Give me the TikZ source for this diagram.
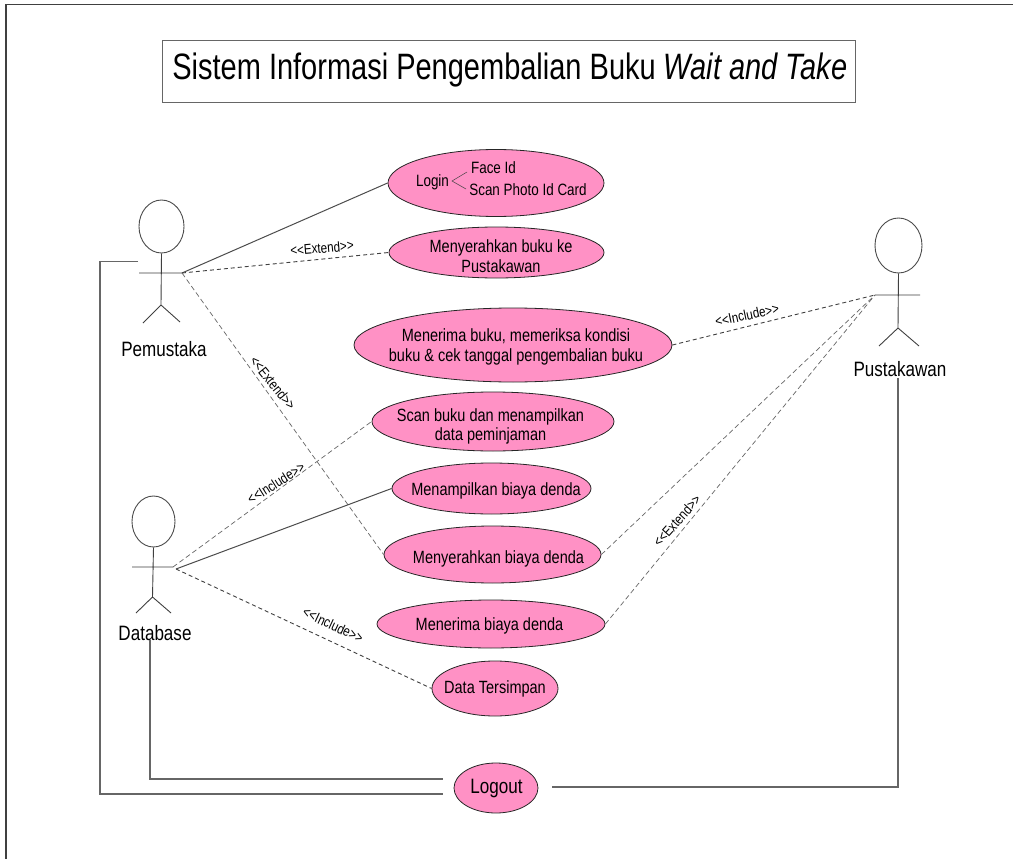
\documentclass[tikz,border=0pt]{standalone}
\usepackage{fontspec}
\setmainfont[FakeStretch=0.82]{Liberation Sans}
\newfontfamily\titlefont[FakeStretch=0.79]{Liberation Sans}
\usetikzlibrary{shapes.geometric}
\definecolor{uc}{HTML}{FF91C5}
\tikzset{
  x=1pt,y=-1pt,
  usecase/.style={ellipse,draw=black!85,line width=0.8pt,fill=uc,inner sep=0pt},
  uctext/.style={align=center,inner sep=0pt,font=\fontsize{17.7}{19.6}\selectfont},
  logintext/.style={font=\fontsize{16.4}{18}\selectfont,inner sep=0pt},
  solidlink/.style={draw=black!70,line width=1pt},
  dashlink/.style={draw=black!75,line width=0.9pt,dash pattern=on 4pt off 3pt},
  thinlink/.style={draw=black!60,line width=0.7pt,dash pattern=on 5pt off 3pt},
  elbow/.style={draw=black!60,line width=1.2pt},
  actorline/.style={draw=black!75,line width=0.9pt},
  actorhead/.style={ellipse,draw=black!70,line width=0.9pt,inner sep=0pt},
  actorname/.style={font=\fontsize{20.8}{22}\selectfont,inner sep=0pt},
  stereo/.style={font=\fontsize{14.2}{15}\selectfont,inner sep=0pt},
  frameline/.style={draw=black!75,line width=1.1pt},
}
\begin{document}
\begin{tikzpicture}
\useasboundingbox (0,0) rectangle (1013,859);
\fill[white] (0,0) rectangle (1013,859);
\coordinate (ftl) at (6,4.5); \coordinate (ftr) at (1013,4.5); \coordinate (fbl) at (6,859);
\draw[frameline] (fbl) -- (ftl) -- (ftr);
% title
\node[draw=black!60,line width=0.9pt,minimum width=693pt,minimum height=62pt,inner sep=0pt] (title) at (508.5,71) {};
\node[inner sep=0pt,font=\titlefont\fontsize{36.7}{40}\selectfont] (titletxt) at (510,70.5) {Sistem Informasi Pengembalian Buku \textit{Wait and Take}};
% use cases
\node[usecase,minimum width=216pt,minimum height=67pt] (login) at (496,183) {};
\node[logintext] (logintxt) at (432.5,182) {Login};
\node[logintext] (faceid) at (493.5,168) {Face Id};
\node[logintext] (scanid) at (528,190) {Scan Photo Id Card};
\coordinate (bra) at (467,172); \coordinate (brb) at (452,181); \coordinate (brc) at (466,189);
\draw[black!75,line width=0.5pt] (bra) -- (brb) -- (brc);
\node[usecase,minimum width=215pt,minimum height=51pt] (serah) at (496.5,252.5) {};
\node[uctext] (serahtxt) at (501,256) {Menyerahkan buku ke\\Pustakawan};
\node[usecase,minimum width=318pt,minimum height=74pt] (terima) at (513,345) {};
\node[uctext] (terimatxt) at (516,347) {Menerima buku, memeriksa kondisi\\buku \& cek tanggal pengembalian buku};
\node[usecase,minimum width=242pt,minimum height=59pt] (scan) at (493,421.5) {};
\node[uctext] (scantxt) at (490.5,426.5) {Scan buku dan menampilkan\\data peminjaman};
\node[usecase,minimum width=199pt,minimum height=51pt] (tampil) at (491.5,488.5) {};
\node[uctext] (tampiltxt) at (496,491) {Menampilkan biaya denda};
\node[usecase,minimum width=217pt,minimum height=57pt] (serahdenda) at (492.5,554.5) {};
\node[uctext] (serahdendatxt) at (498.5,559) {Menyerahkan biaya denda};
\node[usecase,minimum width=228pt,minimum height=48pt] (terimadenda) at (491,624) {};
\node[uctext] (terimadendatxt) at (489.5,625.5) {Menerima biaya denda};
\node[usecase,minimum width=126pt,minimum height=55pt] (data) at (495,688.5) {};
\node[uctext] (datatxt) at (495,689) {Data Tersimpan};
\node[usecase,minimum width=84pt,minimum height=50pt] (logout) at (496,788) {};
\node[uctext,font=\fontsize{20.8}{22}\selectfont] (logouttxt) at (496.5,788) {Logout};
% actors
\node[actorhead,minimum width=45pt,minimum height=53pt] (h1) at (161.5,226.5) {};
\coordinate (a1l) at (139,273); \coordinate (a1r) at (182,273); \coordinate (b1) at (161,305);
\coordinate (l1a) at (143,323); \coordinate (l1b) at (180,322);
\draw[actorline] (h1.south) -- (b1) (a1l) -- (a1r) (l1a) -- (b1) -- (l1b);
\node[actorname] (pem) at (164,349) {Pemustaka};
\node[actorhead,minimum width=43pt,minimum height=51pt] (h2) at (153.5,521.5) {};
\coordinate (a2l) at (132,567); \coordinate (a2r) at (173,567); \coordinate (a2s) at (176,569); \coordinate (b2) at (152.5,597);
\coordinate (l2a) at (136,613); \coordinate (l2b) at (171,613);
\draw[actorline] (h2.south) -- (b2) (a2l) -- (a2r) (l2a) -- (b2) -- (l2b);
\node[actorname] (db) at (155,633.5) {Database};
\node[actorhead,minimum width=47pt,minimum height=55pt] (h3) at (898.5,245.5) {};
\coordinate (a3l) at (875,295); \coordinate (a3r) at (920,295); \coordinate (b3) at (898,328);
\coordinate (l3a) at (879,346); \coordinate (l3b) at (919,346);
\draw[actorline] (h3.south) -- (b3) (a3l) -- (a3r) (l3a) -- (b3) -- (l3b);
\node[actorname] (pus) at (900,369) {Pustakawan};
% connectors
\draw[solidlink] (a1r) -- (login.west);
\draw[dashlink] (a1r) -- (serah.west);
\draw[thinlink] (a1r) -- (serahdenda.west);
\draw[dashlink] (terima.east) -- (a3l);
\draw[thinlink] (serahdenda.east) -- (a3l);
\draw[thinlink] (terimadenda.east) -- (a3l);
\draw[thinlink] (a2r) -- (scan.west);
\draw[solidlink] (a2s) -- (tampil.west);
\draw[dashlink] (a2s) -- (data.west);
% elbows
\coordinate (e1) at (138,261.5); \coordinate (e1b) at (100,261.5); \coordinate (e1c) at (100,794); \coordinate (e1d) at (443,794);
\draw[elbow] (e1) -- (e1b) -- (e1c) -- (e1d);
\coordinate (e2) at (150,640); \coordinate (e2b) at (150,779); \coordinate (e2c) at (443,779);
\draw[elbow] (e2) -- (e2b) -- (e2c);
\coordinate (e3) at (898,378); \coordinate (e3b) at (898,787); \coordinate (e3c) at (552,787);
\draw[elbow] (e3) -- (e3b) -- (e3c);
% stereotypes
\node[stereo,rotate=5] (s1) at (322,248) {<{}<Extend>{}>};
\node[stereo,rotate=-51] (s2) at (273,383) {<{}<Extend>{}>};
\node[stereo,rotate=12] (s3) at (747,315) {<{}<Include>{}>};
\node[stereo,rotate=48] (s4) at (677,521) {<{}<Extend>{}>};
\node[stereo,rotate=32] (s5) at (276,483) {<{}<Include>{}>};
\node[stereo,rotate=-25] (s6) at (333,625) {<{}<Include>{}>};
\end{tikzpicture}
\end{document}
